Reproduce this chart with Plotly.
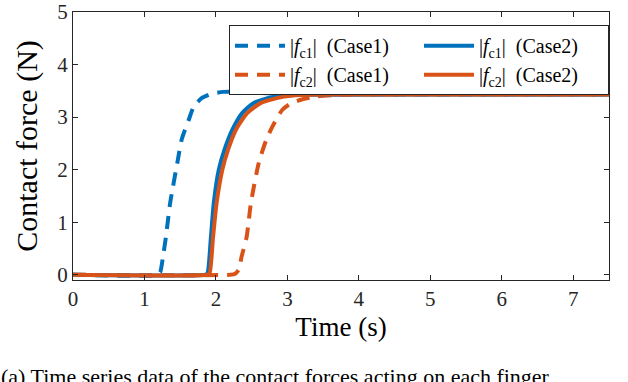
import plotly.graph_objects as go

# Case1 (dashed) and Case2 (solid) contact forces
t_c1_case1 = [0, 1.18, 1.22, 1.26, 1.30, 1.36, 1.46, 1.52, 1.62, 1.69, 1.80, 1.93, 2.10, 2.30, 2.60, 3.00, 3.50, 7.5]
f_c1_case1 = [0, 0, 0.05, 0.35, 0.72, 1.37, 2.13, 2.57, 2.95, 3.20, 3.36, 3.44, 3.48, 3.48, 3.46, 3.44, 3.43, 3.43]

t_c2_case1 = [0, 2.20, 2.27, 2.32, 2.36, 2.43, 2.49, 2.60, 2.70, 2.79, 2.93, 3.05, 3.19, 3.40, 3.70, 4.00, 7.5]
f_c2_case1 = [0, 0, 0.02, 0.10, 0.35, 0.72, 1.37, 2.13, 2.55, 2.82, 3.14, 3.26, 3.33, 3.39, 3.42, 3.43, 3.43]

t_c1_case2 = [0, 1.85, 1.88, 1.93, 1.97, 2.04, 2.12, 2.23, 2.37, 2.53, 2.81, 3.10, 3.43, 7.5]
f_c1_case2 = [0, 0, 0.02, 0.72, 1.37, 2.00, 2.38, 2.76, 3.08, 3.27, 3.39, 3.42, 3.43, 3.43]

t_c2_case2 = [0, 1.88, 1.91, 1.96, 2.01, 2.09, 2.17, 2.28, 2.44, 2.63, 2.95, 3.20, 3.50, 7.5]
f_c2_case2 = [0, 0, 0.02, 0.72, 1.37, 2.00, 2.38, 2.76, 3.08, 3.27, 3.39, 3.42, 3.43, 3.43]

blue = '#0072BD'
orange = '#D95319'
serif = 'Liberation Serif, Times New Roman, serif'
axcol = '#262626'

fig = go.Figure()
fig.add_trace(go.Scatter(x=t_c1_case1, y=f_c1_case1, mode='lines', legendrank=1,
                         name='|<i>f</i><sub>c1</sub>|  (Case1)',
                         line=dict(color=blue, width=4, dash='13px,9px', shape='spline', smoothing=0.6)))
fig.add_trace(go.Scatter(x=t_c2_case1, y=f_c2_case1, mode='lines', legendrank=3,
                         name='|<i>f</i><sub>c2</sub>|  (Case1)',
                         line=dict(color=orange, width=4, dash='13px,9px', shape='spline', smoothing=0.6)))
fig.add_trace(go.Scatter(x=t_c1_case2, y=f_c1_case2, mode='lines', legendrank=2,
                         name='|<i>f</i><sub>c1</sub>|  (Case2)',
                         line=dict(color=blue, width=4, shape='spline', smoothing=0.6)))
fig.add_trace(go.Scatter(x=t_c2_case2, y=f_c2_case2, mode='lines', legendrank=4,
                         name='|<i>f</i><sub>c2</sub>|  (Case2)',
                         line=dict(color=orange, width=4, shape='spline', smoothing=0.6)))

axis_style = dict(showgrid=False, zeroline=False, showline=True, linecolor=axcol, linewidth=1,
                  mirror='ticks', ticks='inside', ticklen=5, tickcolor=axcol, automargin=False,
                  tickfont=dict(family=serif, size=21, color=axcol))

fig.update_layout(
    width=628, height=382,
    margin=dict(l=73, r=19, t=12, b=102, autoexpand=False),
    paper_bgcolor='white', plot_bgcolor='white',
    font=dict(family=serif, color='black'),
    xaxis=dict(range=[0, 7.5], dtick=1, tick0=0,
               title=dict(text='Time (s)', font=dict(family=serif, size=27, color='black'), standoff=6),
               **axis_style),
    yaxis=dict(range=[-0.1, 5], dtick=1, tick0=0,
               title=dict(text='Contact force (N)', font=dict(family=serif, size=30, color='black'), standoff=10),
               **axis_style),
    legend=dict(orientation='h', x=0.291, y=0.951, xanchor='left', yanchor='top',
                bgcolor='white', bordercolor=axcol, borderwidth=1,
                itemwidth=50, entrywidth=124, entrywidthmode='pixels',
                font=dict(family=serif, size=20, color='black'),
                tracegroupgap=0),
    showlegend=True,
)

fig.add_annotation(text='(a) Time series data of the contact forces acting on each finger',
                   xref='paper', yref='paper', x=-0.138, y=-0.305, xanchor='left', yanchor='top',
                   showarrow=False, font=dict(family=serif, size=22, color='black'))

fig.write_html('out.html', config={'displayModeBar': False},
               post_script="document.body.style.margin='0';")
